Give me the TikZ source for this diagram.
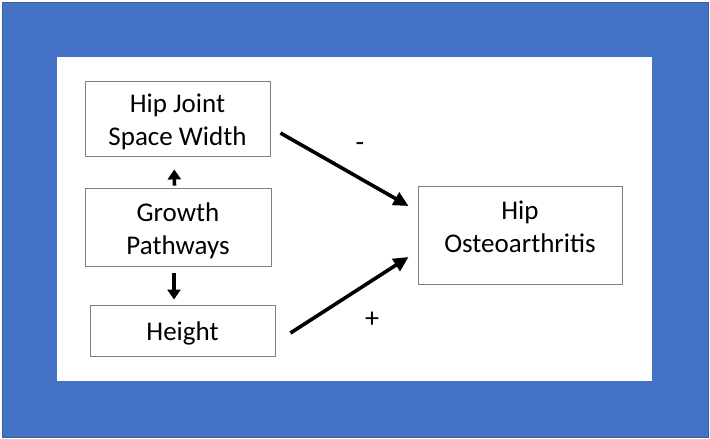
\documentclass[tikz,border=0pt]{standalone}
\usepackage{fontspec}
\setmainfont{Carlito}
\usetikzlibrary{arrows.meta,calc}
\definecolor{frameblue}{HTML}{4472C4}
\definecolor{frameedge}{HTML}{3A5F9E}
\definecolor{boxgray}{HTML}{7F7F7F}
\tikzset{
  box/.style={draw=boxgray, line width=0.9pt, fill=white, inner sep=0pt, align=center,
    font=\fontsize{27}{33}\selectfont},
  boxtext/.style={inner sep=0pt, align=center, font=\fontsize{27}{33}\selectfont},
  bigarrow/.style={line width=3.6pt, -{Triangle[length=15pt,width=14pt]}},
  smallarrow/.style={line width=3.6pt, -{Triangle[length=10pt,width=13pt]}},
  sign/.style={font=\fontsize{28}{33}\selectfont, inner sep=0pt}
}
\begin{document}
\begin{tikzpicture}[x=1pt,y=-1pt]
\useasboundingbox (0,0) rectangle (710,439);
\fill[white] (0,0) rectangle (710,439);
\filldraw[fill=frameblue, draw=frameedge, line width=0.8pt] (2,2) rectangle (708,437);
\fill[white] (57,57) rectangle (652,381);

\node[box, minimum width=185pt, minimum height=75pt] (hj) at (177.5,118.5) {};
\node[boxtext] (hjt) at (177.5,122) {Hip Joint\\Space Width};
\node[box, minimum width=186pt, minimum height=78pt] (g) at (178,227) {};
\node[boxtext] (gt) at (178,231) {Growth\\Pathways};
\node[box, minimum width=185pt, minimum height=51pt] (h) at (182.5,330.5) {};
\node[boxtext] (ht) at (182.5,333) {Height};
\node[box, minimum width=204pt, minimum height=98pt] (oa) at (520,235) {};
\node[boxtext] (oat) at (520,227) {Hip\\Osteoarthritis};

\draw[smallarrow, shorten <=2pt, shorten >=13pt] ([xshift=-3.5pt]g.north) -- ([xshift=-3.5pt]hj.south);
\draw[smallarrow, shorten <=7pt, shorten >=5pt] ([xshift=-4pt]g.south) -- ([xshift=-8.5pt]h.north);

\draw[bigarrow] ($(hj.east)+(10,14.5)$) -- ($(oa.west)+(-9,-29)$);
\draw[bigarrow] ($(h.east)+(15,2.5)$) -- ($(oa.west)+(-9,22)$);

\node[sign] (minus) at (360,147) {-};
\node[sign] (plus) at (372,320) {+};
\end{tikzpicture}
\end{document}
